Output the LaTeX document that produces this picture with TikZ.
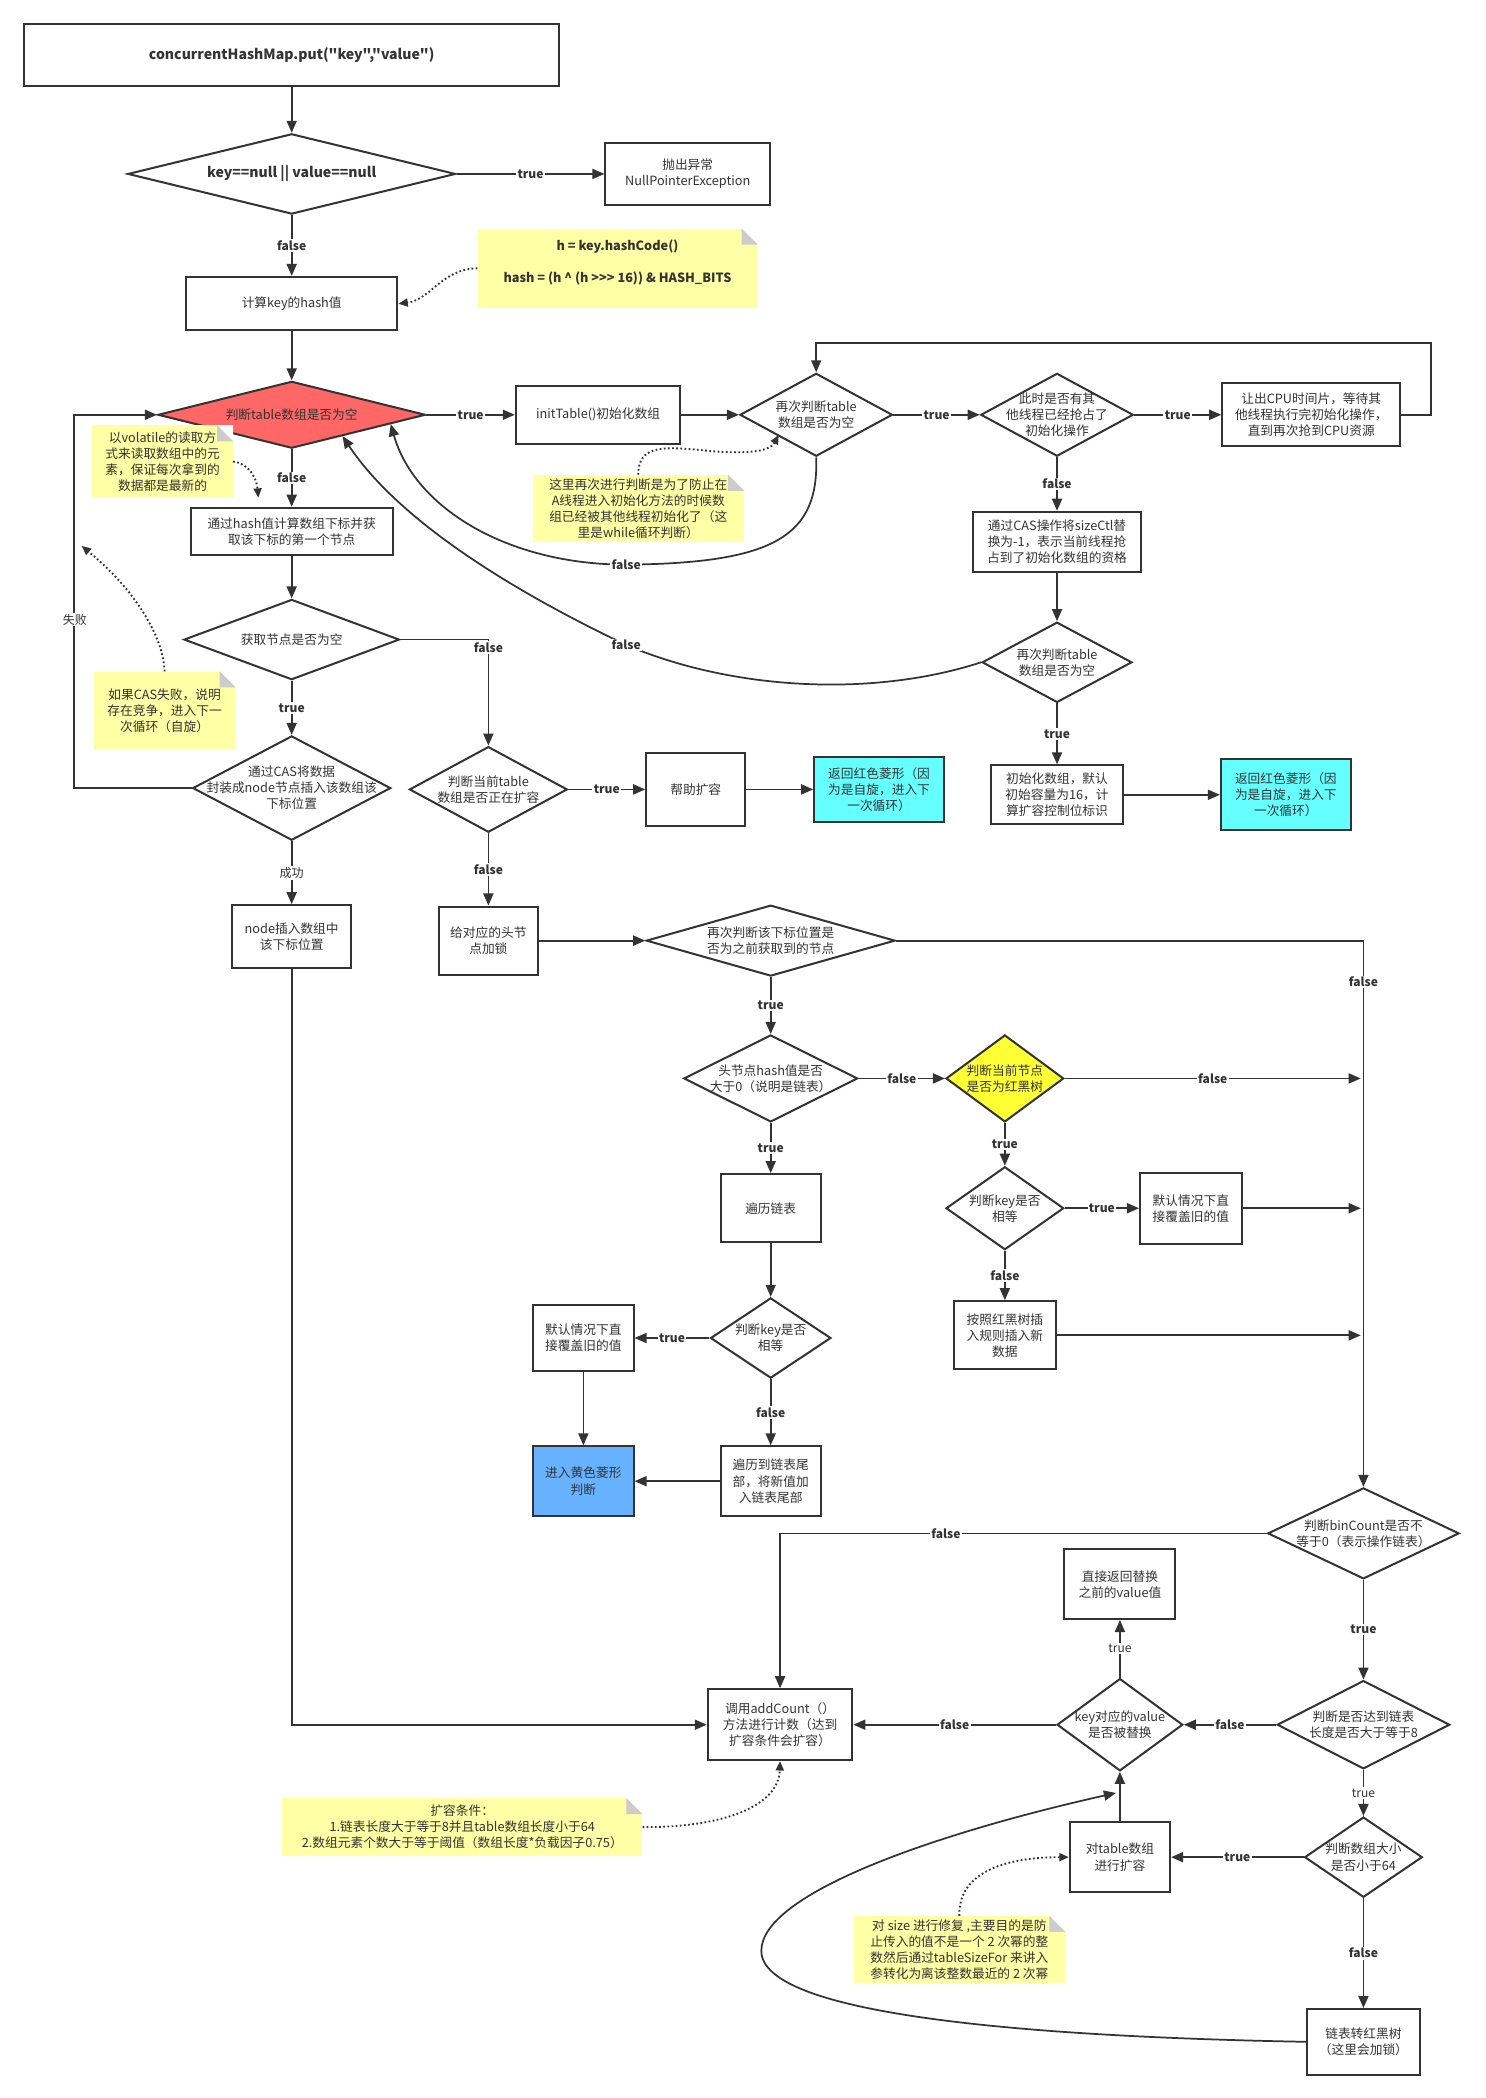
\documentclass[tikz,border=0pt]{standalone}
\usepackage{fontspec}
\setmainfont{Noto Sans CJK SC}[Ligatures=TeXOff]
\usetikzlibrary{shapes.geometric,arrows.meta}
\definecolor{lc}{HTML}{333333}
\definecolor{redd}{HTML}{FF6666}
\definecolor{cyanb}{HTML}{66FFFF}
\definecolor{yeld}{HTML}{FFFF33}
\definecolor{blueb}{HTML}{66B2FF}
\definecolor{notey}{HTML}{FFFFA6}
\definecolor{foldc}{HTML}{CCCCCC}
\newcommand{\mkdia}[7]{%
  \node[dia, fill=#6, minimum width=#4pt, minimum height=#5pt] (#1) at (#2,#3) {};
  \node[txt] (#1t) at (#1.center) {#7};}
\newcommand{\mkfold}[1]{%
  \fill[white] ([xshift=-12pt]#1.north east) -- (#1.north east) -- ([yshift=-12pt]#1.north east) -- cycle;
  \fill[foldc] ([xshift=-12pt]#1.north east) -- ([yshift=-12pt]#1.north east) -- ([xshift=-12pt,yshift=-12pt]#1.north east) -- cycle;}
\begin{document}
\begin{tikzpicture}[x=1pt,y=-1pt,
  every node/.style={text=lc, font=\fontsize{9.5}{12}\selectfont},
  box/.style={draw=lc, line width=1.5pt, fill=white, align=center, inner sep=0pt},
  dia/.style={diamond, draw=lc, line width=1.5pt, inner sep=0pt},
  txt/.style={align=center, inner sep=0pt},
  con/.style={draw=lc, line width=1.3pt},
  arr/.style={con, -{Triangle[length=9pt,width=7.5pt]}},
  lab/.style={fill=white, inner sep=1pt, font=\fontsize{9}{11}\selectfont\bfseries},
  labr/.style={fill=white, inner sep=1pt, font=\fontsize{9}{11}\selectfont},
  note/.style={fill=notey, align=center, inner sep=0pt},
  dots/.style={draw=lc, line width=1.4pt, dash pattern=on 1.3pt off 1.8pt, -{Triangle[length=7pt,width=6pt]}},
]
\fill[white] (0,0) rectangle (1110,1568);
\useasboundingbox (0,0) rectangle (1110,1568);

% ---------- nodes ----------
\node[box, minimum width=400pt, minimum height=46pt, font=\fontsize{10.5}{12}\selectfont\bfseries] (start) at (218,41) {concurrentHashMap.put(\char34 key\char34,\char34 value\char34)};
\mkdia{d1}{218}{130}{245}{60}{white}{\fontsize{10.5}{12}\selectfont\bfseries key==null || value==null}
\node[box, minimum width=123pt, minimum height=46pt] (npe) at (514,130) {抛出异常\\NullPointerException};
\node[box, minimum width=158pt, minimum height=40pt] (hash) at (218,227) {计算key的hash值};
\node[note, minimum width=209pt, minimum height=59pt] (n1) at (461.5,200.5) {};
\node[txt, font=\fontsize{9.5}{12}\selectfont\bfseries] (n1a) at (461.5,184) {h = key.hashCode()};
\node[txt, font=\fontsize{9.5}{12}\selectfont\bfseries] (n1b) at (461.5,208) {hash = (h \textasciicircum{} (h >>> 16)) \& HASH\_BITS};
\mkfold{n1}

\mkdia{d2}{218}{310}{200}{50}{redd}{判断table数组是否为空}
\node[box, minimum width=123pt, minimum height=43pt] (init) at (447,310) {initTable()初始化数组};
\mkdia{d3}{610}{310}{114}{62}{white}{再次判断table\\数组是否为空}
\mkdia{d4}{790}{310}{114}{62}{white}{此时是否有其\\他线程已经抢占了\\初始化操作}
\node[box, minimum width=133pt, minimum height=47pt] (yield) at (980,310) {让出CPU时间片，等待其\\他线程执行完初始化操作，\\直到再次抢到CPU资源};
\node[note, minimum width=158pt, minimum height=50pt] (n2) at (477,380) {这里再次进行判断是为了防止在\\A线程进入初始化方法的时候数\\组已经被其他线程初始化了（这\\里是while循环判断）};
\mkfold{n2}
\node[box, minimum width=126pt, minimum height=45pt] (cas) at (790,405) {通过CAS操作将sizeCtl替\\换为-1，表示当前线程抢\\占到了初始化数组的资格};
\mkdia{d5}{790}{495}{112}{60}{white}{再次判断table\\数组是否为空}
\node[box, minimum width=99pt, minimum height=44pt] (initArr) at (790,594) {初始化数组，默认\\初始容量为16，计\\算扩容控制位标识};
\node[box, fill=cyanb, minimum width=97pt, minimum height=53pt] (cyan2) at (961,594) {返回红色菱形（因\\为是自旋，进入下\\一次循环）};

\node[box, minimum width=151pt, minimum height=35pt] (idx) at (218,397) {通过hash值计算数组下标并获\\取该下标的第一个节点};
\node[note, minimum width=105pt, minimum height=54pt] (n3) at (121.5,345) {以volatile的读取方\\式来读取数组中的元\\素，保证每次拿到的\\数据都是最新的};
\mkfold{n3}
\mkdia{d6}{218}{478}{161}{60}{white}{获取节点是否为空}
\mkdia{d7}{218}{589}{148}{78}{white}{通过CAS将数据\\封装成node节点插入该数组该\\下标位置}
\node[note, minimum width=106pt, minimum height=58pt] (n4) at (123,531) {如果CAS失败，说明\\存在竞争，进入下一\\次循环（自旋）};
\mkfold{n4}
\node[box, minimum width=89pt, minimum height=47pt] (nodeIns) at (218,700) {node插入数组中\\该下标位置};
\mkdia{d8}{365}{590}{118}{64}{white}{判断当前table\\数组是否正在扩容}
\node[box, minimum width=74pt, minimum height=55pt] (help) at (520,590) {帮助扩容};
\node[box, fill=cyanb, minimum width=97pt, minimum height=49pt] (cyan1) at (657,590) {返回红色菱形（因\\为是自旋，进入下\\一次循环）};
\node[box, minimum width=74pt, minimum height=51pt] (lock) at (365,703) {给对应的头节\\点加锁};
\mkdia{d9}{576}{703}{186}{53}{white}{再次判断该下标位置是\\否为之前获取到的节点}
\mkdia{d10}{576}{806}{130}{65}{white}{头节点hash值是否\\大于0（说明是链表）}
\mkdia{d11}{751}{806}{88}{65}{yeld}{判断当前节点\\是否为红黑树}
\node[box, minimum width=75pt, minimum height=51pt] (trav) at (576,903) {遍历链表};
\mkdia{d12}{576}{1000}{90}{60}{white}{判断key是否\\相等}
\node[box, minimum width=75pt, minimum height=50pt] (ow1) at (436,1000) {默认情况下直\\接覆盖旧的值};
\node[box, fill=blueb, minimum width=75pt, minimum height=52pt] (blue) at (436,1107) {进入黄色菱形\\判断};
\node[box, minimum width=75pt, minimum height=52pt] (tail) at (576,1107) {遍历到链表尾\\部，将新值加\\入链表尾部};
\mkdia{d13}{751}{903}{88}{62}{white}{判断key是否\\相等}
\node[box, minimum width=76pt, minimum height=53pt] (ow2) at (890,903) {默认情况下直\\接覆盖旧的值};
\node[box, minimum width=76pt, minimum height=51pt] (rb) at (751,998) {按照红黑树插\\入规则插入新\\数据};
\mkdia{d14}{1019}{1146}{143}{68}{white}{判断binCount是否不\\等于0（表示操作链表）}
\node[box, minimum width=108pt, minimum height=53pt] (addc) at (583,1289) {调用addCount（）\\方法进行计数（达到\\扩容条件会扩容）};
\mkdia{d15}{1019}{1289}{129}{66}{white}{判断是否达到链表\\长度是否大于等于8}
\mkdia{d16}{837}{1289}{94}{69}{white}{key对应的value\\是否被替换}
\node[box, minimum width=83pt, minimum height=52pt] (retOld) at (837,1184) {直接返回替换\\之前的value值};
\mkdia{d17}{1019}{1388}{88}{60}{white}{判断数组大小\\是否小于64}
\node[box, minimum width=75pt, minimum height=52pt] (resize) at (837,1388) {对table数组\\进行扩容};
\node[box, minimum width=84pt, minimum height=49pt] (treeify) at (1019,1526) {链表转红黑树\\（这里会加锁）};
\node[note, minimum width=158pt, minimum height=50pt] (n5) at (717,1457) {对 size 进行修复 ,主要目的是防\\止传入的值不是一个 2 次幂的整\\数然后通过tableSizeFor 来讲入\\参转化为离该整数最近的 2 次幂};
\mkfold{n5}
\node[note, minimum width=269pt, minimum height=43pt] (n6) at (345.5,1365.5) {扩容条件：\\1.链表长度大于等于8并且table数组长度小于64\\2.数组元素个数大于等于阈值（数组长度*负载因子0.75）};
\mkfold{n6}

% ---------- free ends ----------
\coordinate (e1) at (1017,806);
\coordinate (e2) at (1017,903);
\coordinate (e3) at (1017,998);
\coordinate (e4) at (834,1340);
\coordinate (e5) at (292,317);
\coordinate (e6) at (256,326);
\coordinate (e7) at (193,372);
\coordinate (e8) at (61,408);
\coordinate (e9) at (582,325);

% ---------- connectors ----------
\draw[arr] (start.south) -- (d1.north);
\draw[arr] (d1.east) -- node[lab]{true} (npe.west);
\draw[arr] (d1.south) -- node[lab]{false} (hash.north);
\draw[arr] (hash.south) -- (d2.north);
\draw[arr] (d2.east) -- node[lab]{true} (init.west);
\draw[arr] (init.east) -- (d3.west);
\draw[arr] (d3.east) -- node[lab]{true} (d4.west);
\draw[arr] (d4.east) -- node[lab]{true} (yield.west);
\draw[arr] (yield.east) -- ++(22,0) |- ([yshift=22pt]d3.north) -- (d3.north);
\draw[arr] (d4.south) -- node[lab]{false} (cas.north);
\draw[arr] (cas.south) -- (d5.north);
\draw[arr] (d5.south) -- node[lab]{true} (initArr.north);
\draw[arr] (initArr.east) -- (cyan2.west);
\draw[arr] (d3.south) .. controls (612,400) and (580,421) .. (468,422) node[lab]{false} .. controls (380,422) and (310,380) .. (e5);
\draw[arr] (d5.west) .. controls (650,522) and (545,515) .. (468,482) node[lab]{false} .. controls (390,445) and (300,392) .. (e6);

\draw[arr] (d2.south) -- node[lab]{false} (idx.north);
\draw[arr] (idx.south) -- (d6.north);
\draw[arr] (d6.south) -- node[lab]{true} (d7.north);
\draw[arr] (d7.west) -- ++(-88,0) |- (d2.west);
\node[labr] (lfail) at (56,463) {失败};
\draw[arr] (d7.south) -- node[labr]{成功} (nodeIns.north);
\draw[arr] (d6.east) -| (d8.north);
\node[lab] (l68) at (365,484) {false};
\draw[arr] (d8.east) -- node[lab]{true} (help.west);
\draw[arr] (help.east) -- (cyan1.west);
\draw[arr] (d8.south) -- node[lab]{false} (lock.north);
\draw[arr] (lock.east) -- (d9.west);
\draw[arr] (d9.east) -| (d14.north);
\node[lab] (l914) at (1019,734) {false};
\draw[arr] (d9.south) -- node[lab]{true} (d10.north);
\draw[arr] (d10.east) -- node[lab]{false} (d11.west);
\draw[arr] (d11.east) -- node[lab]{false} (e1);
\draw[arr] (d10.south) -- node[lab]{true} (trav.north);
\draw[arr] (trav.south) -- (d12.north);
\draw[arr] (d12.west) -- node[lab]{true} (ow1.east);
\draw[arr] (ow1.south) -- (blue.north);
\draw[arr] (d12.south) -- node[lab]{false} (tail.north);
\draw[arr] (tail.west) -- (blue.east);
\draw[arr] (d11.south) -- node[lab]{true} (d13.north);
\draw[arr] (d13.east) -- node[lab]{true} (ow2.west);
\draw[arr] (ow2.east) -- (e2);
\draw[arr] (d13.south) -- node[lab]{false} (rb.north);
\draw[arr] (rb.east) -- (e3);
\draw[arr] (d14.west) -| (addc.north);
\node[lab] (l14) at (707,1146) {false};
\draw[arr] (nodeIns.south) |- (addc.west);
\draw[arr] (d14.south) -- node[lab]{true} (d15.north);
\draw[arr] (d15.west) -- node[lab]{false} (d16.east);
\draw[arr] (d16.west) -- node[lab]{false} (addc.east);
\draw[arr] (d16.north) -- node[labr]{true} (retOld.south);
\draw[arr] (d15.south) -- node[labr]{true} (d17.north);
\draw[arr] (d17.west) -- node[lab]{true} (resize.east);
\draw[arr] (resize.north) -- (d16.south);
\draw[arr] (d17.south) -- node[lab]{false} (treeify.north);
\draw[arr] (treeify.west) .. controls (760,1522) and (569,1505) .. (569,1458) .. controls (569,1415) and (700,1370) .. (e4);

% ---------- note connectors ----------
\draw[dots] (n1.west) .. controls (330,201) and (322,224) .. (hash.east);
\draw[dots] (n3.east) .. controls (186,346) and (192,358) .. (e7);
\draw[dots] (n4.north) .. controls (122,475) and (100,440) .. (e8);
\draw[dots] (n2.north) .. controls (477,333) and (495,334) .. (520,336) .. controls (555,340) and (575,338) .. (e9);
\draw[dots] (n5.north) .. controls (716,1400) and (750,1388) .. (resize.west);
\draw[dots] (n6.east) .. controls (540,1366) and (582,1350) .. (addc.south);
\end{tikzpicture}
\end{document}
